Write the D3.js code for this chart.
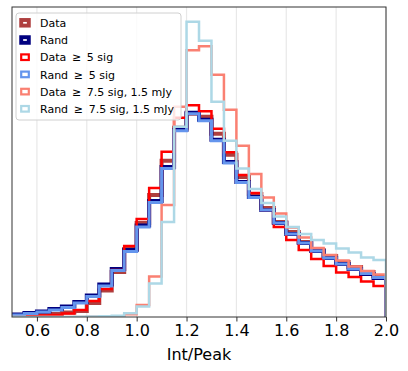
<!DOCTYPE html>
<html>
<head>
<meta charset="utf-8">
<script src="https://cdn.jsdelivr.net/npm/d3@7"></script>
<style>
  html, body { margin: 0; padding: 0; background: #fff; }
  svg { display: block; font-family: "DejaVu Sans", sans-serif; }
</style>
</head>
<body>
<svg id="chart" width="408" height="371"></svg>
<script>
// Bin edges (Int/Peak)
const binEdges = [0.50,0.55,0.60,0.65,0.70,0.75,0.80,0.85,0.90,0.95,1.00,1.05,1.10,1.15,1.20,
                  1.25,1.30,1.35,1.40,1.45,1.50,1.55,1.60,1.65,1.70,1.75,1.80,1.85,1.90,1.95,2.00];
const xTicks = [0.6, 0.8, 1.0, 1.2, 1.4, 1.6, 1.8, 2.0];
const xLabel = "Int/Peak";

// Series (normalised counts per bin)
const dataAll = [0.02,0.03,0.04,0.06,0.09,0.12,0.28,0.53,0.90,1.36,1.88,2.44,3.12,3.78,4.06,4.00,3.66,3.24,2.80,2.46,2.18,1.90,1.70,1.50,1.34,1.22,1.10,1.00,0.90,0.82];
const randAll = [0.05,0.08,0.11,0.16,0.21,0.30,0.43,0.65,0.96,1.34,1.83,2.32,3.00,3.74,4.08,3.94,3.54,3.10,2.70,2.40,2.14,1.88,1.66,1.48,1.32,1.18,1.06,0.96,0.86,0.78];
const data5 = [0.01,0.02,0.03,0.04,0.07,0.14,0.32,0.56,0.94,1.42,1.96,2.58,3.30,3.98,4.23,4.11,3.76,3.29,2.84,2.48,2.14,1.80,1.54,1.34,1.16,1.02,0.89,0.80,0.71,0.62];
const rand5 = [0.04,0.07,0.10,0.14,0.19,0.28,0.41,0.62,0.93,1.31,1.80,2.29,2.97,3.72,4.06,3.92,3.52,3.08,2.69,2.39,2.14,1.88,1.66,1.48,1.32,1.18,1.06,0.96,0.87,0.79];
const data75 = [0,0,0,0,0.002,0.002,0.004,0.008,0.012,0.054,0.24,0.81,2.24,4.20,5.33,5.41,4.84,4.14,3.42,2.86,2.39,2.07,1.79,1.59,1.38,1.24,1.13,1.01,0.92,0.85];
const rand75 = [0,0,0,0,0,0.004,0.008,0.014,0.026,0.074,0.21,0.67,1.90,3.80,5.90,5.52,4.30,3.52,2.97,2.56,2.28,2.01,1.80,1.66,1.54,1.47,1.37,1.29,1.19,1.14];

const seriesNames = ["Data", "Rand", "Data \u2009\u2265\u2009 5 sig", "Rand \u2009\u2265\u2009 5 sig",
                     "Data \u2009\u2265\u2009 7.5 sig, 1.5 mJy", "Rand \u2009\u2265\u2009 7.5 sig, 1.5 mJy"];
const seriesValues = [dataAll, randAll, data5, rand5, data75, rand75];
const seriesColors = ["#a52a2a", "#000080", "#ff0000", "#6495ed", "#fa8072", "#add8e6"];
const seriesWidths = [4, 4, 2.5, 3, 2.5, 2.5];
const seriesOpacity = [0.9, 1, 1, 1, 1, 1];

const svg = d3.select("#chart");
const L = 12, R = 386, T = 7, B = 317;

const ymax = d3.max(seriesValues.flat()) * 1.05;
const x = d3.scaleLinear().domain([0.5, 2.0]).range([L, R]);
const y = d3.scaleLinear().domain([0, ymax]).range([B, T]);

svg.append("defs").append("clipPath").attr("id", "clip")
  .append("rect").attr("x", L).attr("y", T).attr("width", R - L).attr("height", B - T);

// grid
svg.append("g").selectAll("line").data(xTicks).join("line")
  .attr("x1", d => x(d)).attr("x2", d => x(d))
  .attr("y1", T).attr("y2", B)
  .attr("stroke", "#e8e8e8").attr("stroke-width", 1.2);

// histograms
const line = d3.line().x(d => x(d[0])).y(d => y(d[1])).curve(d3.curveStepAfter);
const g = svg.append("g").attr("clip-path", "url(#clip)");
seriesValues.forEach((vals, k) => {
  const pts = vals.map((v, i) => [binEdges[i], v]);
  pts.push([binEdges[binEdges.length - 1], 0]);
  g.append("path").attr("d", line(pts))
    .attr("fill", "none")
    .attr("stroke", seriesColors[k])
    .attr("stroke-width", seriesWidths[k])
    .attr("stroke-opacity", seriesOpacity[k])
    .attr("stroke-linejoin", "miter");
});

// spines
svg.append("rect").attr("x", L).attr("y", T).attr("width", R - L).attr("height", B - T)
  .attr("fill", "none").attr("stroke", "#333").attr("stroke-width", 1);

// x axis
const ax = svg.append("g").attr("transform", `translate(0,${B})`)
  .call(d3.axisBottom(x).tickValues(xTicks).tickFormat(d3.format(".1f")).tickSize(4.5).tickPadding(3));
ax.select(".domain").remove();
ax.selectAll(".tick line").attr("stroke", "#333");
ax.selectAll(".tick text").attr("font-size", 16).attr("font-family", "DejaVu Sans").attr("fill", "#000");

svg.append("text").attr("x", (L + R) / 2).attr("y", 360)
  .attr("text-anchor", "middle").attr("font-size", 16).attr("fill", "#000").text(xLabel);

// legend
const lg = svg.append("g");
lg.append("rect").attr("x", 16).attr("y", 13).attr("width", 165).attr("height", 107)
  .attr("rx", 3).attr("fill", "#fff").attr("fill-opacity", 0.8)
  .attr("stroke", "#d0d0d0").attr("stroke-width", 1);
seriesNames.forEach((name, k) => {
  const cy = 22.8 + k * 17.2;
  lg.append("rect").attr("x", 21.2).attr("y", cy - 2.8).attr("width", 7.6).attr("height", 5.6)
    .attr("fill", "none").attr("stroke", seriesColors[k])
    .attr("stroke-width", k < 2 ? 3.9 : 2.2).attr("stroke-opacity", seriesOpacity[k]);
  lg.append("text").attr("x", 40).attr("y", cy + 4.2)
    .attr("font-size", 11).attr("fill", "#000").style("white-space", "pre").text(name);
});
</script>
</body>
</html>
